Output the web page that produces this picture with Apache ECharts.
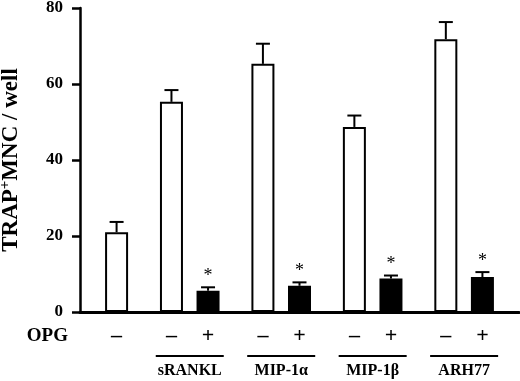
<!DOCTYPE html>
<html>
<head>
<meta charset="utf-8">
<script src="https://cdn.jsdelivr.net/npm/echarts@6/dist/echarts.min.js"></script>
<style>
  html, body { margin: 0; padding: 0; background: #fff; }
  #main { width: 520px; height: 381px; }
</style>
</head>
<body>
<div id="main"></div>
<script>
// data
var conditions = ['control', 'sRANKL', 'sRANKL', 'MIP-1α', 'MIP-1α', 'MIP-1β', 'MIP-1β', 'ARH77', 'ARH77'];
var opgSigns = ['–', '–', '+', '–', '+', '–', '+', '–', '+'];
var trapMnc = [21.0, 55.3, 5.6, 65.3, 6.9, 48.7, 8.8, 71.8, 9.2];
var sem = [2.7, 3.1, 0.9, 5.3, 0.9, 3.0, 0.8, 4.5, 1.3];
var marked = [0, 0, 1, 0, 1, 0, 1, 0, 1];
var groupLabels = ['sRANKL', 'MIP-1α', 'MIP-1β', 'ARH77'];
var yTicks = [0, 20, 40, 60, 80];

var FONT = '"Liberation Serif", "DejaVu Serif", serif';

// category slots: 2 apart inside a group, 3 apart between groups
var slots = [];
var s = 2;
conditions.forEach(function (c, i) {
  if (i > 0) s += (c === conditions[i - 1]) ? 2 : 3;
  slots.push(s);
});
var nSlots = s + 3;

var signCats = [];
var groupCats = [];
var barData = [];
for (var k = 0; k < nSlots; k++) {
  signCats.push('');
  groupCats.push('');
  barData.push(null);
}
var errData = [];
conditions.forEach(function (c, i) {
  signCats[slots[i]] = opgSigns[i];
  barData[slots[i]] = {
    value: trapMnc[i],
    itemStyle: { color: opgSigns[i] === '+' ? '#000' : '#fff' }
  };
  errData.push([slots[i], trapMnc[i], sem[i], marked[i]]);
});
groupLabels.forEach(function (g) {
  var idx = conditions.indexOf(g);
  groupCats[(slots[idx] + slots[idx + 1]) / 2] = g;
});

var chart = echarts.init(document.getElementById('main'));

chart.setOption({
  backgroundColor: '#fff',
  animation: false,
  grid: { left: 80, right: 1, top: 8, bottom: 69, outerBoundsMode: 'none' },
  xAxis: [{
    type: 'category',
    data: signCats,
    boundaryGap: false,
    name: 'OPG',
    nameLocation: 'start',
    nameGap: 12,
    nameTextStyle: {
      fontFamily: FONT, fontWeight: 'bold', fontSize: 19, color: '#000',
      verticalAlign: 'top', padding: [15, 0, 0, 0]
    },
    axisLine: { lineStyle: { color: '#000', width: 3 } },
    axisTick: { show: false },
    axisLabel: {
      interval: 0, margin: 13, color: '#000',
      fontFamily: FONT, fontWeight: 'bold', fontSize: 22
    }
  }, {
    type: 'category',
    data: groupCats,
    boundaryGap: false,
    position: 'bottom',
    offset: 0,
    axisLine: { show: false },
    axisTick: { show: false },
    axisLabel: {
      interval: 0, margin: 43, color: '#000',
      formatter: function (v) { return v ? '{u|}\n{g|' + v + '}' : ''; },
      rich: {
        u: { width: 68, height: 2, lineHeight: 2, backgroundColor: '#000' },
        g: { fontFamily: FONT, fontWeight: 'bold', fontSize: 16, lineHeight: 28, color: '#000' }
      }
    }
  }],
  yAxis: {
    type: 'value',
    min: yTicks[0],
    max: yTicks[yTicks.length - 1],
    interval: yTicks[1] - yTicks[0],
    name: '{a|TRAP}{s|+}{a|MNC / well}',
    nameLocation: 'middle',
    nameGap: 56,
    nameTextStyle: {
      rich: {
        a: { fontFamily: FONT, fontWeight: 'bold', fontSize: 23, color: '#000' },
        s: { fontFamily: FONT, fontWeight: 'bold', fontSize: 15, color: '#000', padding: [0, 0, 11, 0] }
      }
    },
    axisLine: { show: true, lineStyle: { color: '#000', width: 2.5 } },
    axisTick: { show: true, length: 8, lineStyle: { color: '#000', width: 2.5 } },
    splitLine: { show: false },
    axisLabel: {
      margin: 17, color: '#000',
      fontFamily: FONT, fontWeight: 'bold', fontSize: 17
    }
  },
  series: [{
    type: 'bar',
    data: barData,
    barWidth: 23,
    itemStyle: { borderColor: '#000', borderWidth: 2 }
  }, {
    type: 'custom',
    data: errData,
    encode: { x: 0, y: 1 },
    z: 3,
    renderItem: function (params, api) {
      var x = api.value(0);
      var top = api.coord([x, api.value(1) + api.value(2)]);
      var base = api.coord([x, api.value(1)]);
      var children = [{
        type: 'line',
        shape: { x1: base[0], y1: base[1], x2: top[0], y2: top[1] },
        style: { stroke: '#000', lineWidth: 2 }
      }, {
        type: 'line',
        shape: { x1: top[0] - 7, y1: top[1], x2: top[0] + 7, y2: top[1] },
        style: { stroke: '#000', lineWidth: 2 }
      }];
      if (api.value(3)) {
        children.push({
          type: 'text',
          style: {
            x: top[0], y: top[1] - 11, text: '*',
            fontFamily: FONT, fontSize: 18, fill: '#000',
            textAlign: 'center', textVerticalAlign: 'middle'
          }
        });
      }
      return { type: 'group', children: children };
    }
  }]
});
</script>
</body>
</html>
